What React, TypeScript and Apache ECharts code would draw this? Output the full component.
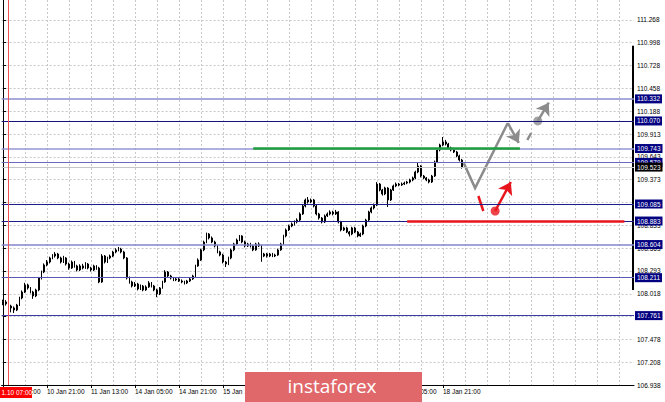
import React, { useEffect, useRef } from 'react';
import * as echarts from 'echarts';

const MONTHS = ['Jan', 'Feb', 'Mar', 'Apr', 'May', 'Jun', 'Jul', 'Aug', 'Sep', 'Oct', 'Nov', 'Dec'];
const BAR_COUNT = 230;
const FIRST_BAR_UTC = Date.UTC(2019, 0, 10, 5);

function buildTimes(count: number): string[] {
  const out: string[] = [];
  let t = FIRST_BAR_UTC;
  while (out.length < count) {
    const d = new Date(t);
    const wd = d.getUTCDay();
    if (wd !== 0 && wd !== 6) {
      out.push(`${d.getUTCDate()} ${MONTHS[d.getUTCMonth()]} ${String(d.getUTCHours()).padStart(2, '0')}:00`);
    }
    t += 3600000;
  }
  return out;
}
const TIMES = buildTimes(BAR_COUNT);

// [open, close, low, high]
const CANDLES: number[][] = [
  [107.930, 107.900, 107.885, 107.950],
  [107.900, 107.923, 107.880, 107.945],
  [107.923, 107.875, 107.860, 107.935],
  [107.875, 107.852, 107.800, 107.890],
  [107.852, 107.828, 107.792, 107.870],
  [107.828, 107.887, 107.815, 107.900],
  [107.887, 107.970, 107.875, 107.985],
  [107.970, 108.041, 107.955, 108.060],
  [108.041, 108.124, 108.030, 108.150],
  [108.124, 108.089, 108.070, 108.140],
  [108.089, 108.041, 108.025, 108.100],
  [108.041, 107.994, 107.960, 108.055],
  [107.994, 108.065, 107.980, 108.080],
  [108.065, 108.207, 108.050, 108.220],
  [108.207, 108.279, 108.190, 108.295],
  [108.279, 108.362, 108.265, 108.380],
  [108.362, 108.397, 108.345, 108.420],
  [108.397, 108.445, 108.380, 108.460],
  [108.445, 108.468, 108.430, 108.490],
  [108.468, 108.492, 108.450, 108.515],
  [108.492, 108.445, 108.430, 108.505],
  [108.445, 108.397, 108.380, 108.460],
  [108.397, 108.445, 108.385, 108.470],
  [108.445, 108.373, 108.355, 108.455],
  [108.373, 108.326, 108.305, 108.390],
  [108.326, 108.397, 108.315, 108.415],
  [108.397, 108.350, 108.330, 108.410],
  [108.350, 108.302, 108.285, 108.365],
  [108.302, 108.350, 108.290, 108.370],
  [108.350, 108.326, 108.310, 108.375],
  [108.326, 108.373, 108.315, 108.395],
  [108.373, 108.326, 108.310, 108.385],
  [108.326, 108.302, 108.285, 108.340],
  [108.302, 108.350, 108.290, 108.365],
  [108.350, 108.326, 108.305, 108.360],
  [108.326, 108.160, 108.145, 108.340],
  [108.160, 108.468, 108.150, 108.490],
  [108.468, 108.397, 108.380, 108.480],
  [108.397, 108.445, 108.385, 108.460],
  [108.445, 108.468, 108.430, 108.485],
  [108.468, 108.516, 108.455, 108.530],
  [108.516, 108.540, 108.500, 108.560],
  [108.540, 108.551, 108.525, 108.575],
  [108.551, 108.516, 108.500, 108.565],
  [108.516, 108.445, 108.430, 108.530],
  [108.445, 108.207, 108.190, 108.455],
  [108.207, 108.160, 108.140, 108.225],
  [108.160, 108.112, 108.095, 108.175],
  [108.112, 108.136, 108.100, 108.160],
  [108.136, 108.077, 108.060, 108.150],
  [108.077, 108.112, 108.065, 108.130],
  [108.112, 108.065, 108.050, 108.125],
  [108.065, 108.101, 108.055, 108.120],
  [108.101, 108.148, 108.090, 108.170],
  [108.148, 108.112, 108.095, 108.160],
  [108.112, 108.065, 108.050, 108.125],
  [108.065, 108.018, 107.980, 108.080],
  [108.018, 108.089, 108.005, 108.100],
  [108.089, 108.160, 108.080, 108.175],
  [108.160, 108.279, 108.150, 108.300],
  [108.279, 108.231, 108.215, 108.290],
  [108.231, 108.207, 108.190, 108.245],
  [108.207, 108.184, 108.170, 108.220],
  [108.184, 108.196, 108.170, 108.215],
  [108.196, 108.172, 108.160, 108.210],
  [108.172, 108.160, 108.145, 108.190],
  [108.160, 108.148, 108.130, 108.175],
  [108.148, 108.172, 108.135, 108.185],
  [108.172, 108.196, 108.160, 108.210],
  [108.196, 108.231, 108.185, 108.245],
  [108.231, 108.350, 108.220, 108.365],
  [108.350, 108.421, 108.340, 108.440],
  [108.421, 108.540, 108.410, 108.555],
  [108.540, 108.634, 108.525, 108.650],
  [108.634, 108.729, 108.620, 108.745],
  [108.729, 108.682, 108.665, 108.740],
  [108.682, 108.634, 108.620, 108.700],
  [108.634, 108.587, 108.570, 108.650],
  [108.587, 108.516, 108.500, 108.600],
  [108.516, 108.480, 108.465, 108.530],
  [108.480, 108.397, 108.380, 108.495],
  [108.397, 108.373, 108.338, 108.410],
  [108.373, 108.445, 108.360, 108.460],
  [108.445, 108.540, 108.430, 108.555],
  [108.540, 108.611, 108.525, 108.625],
  [108.611, 108.658, 108.595, 108.675],
  [108.658, 108.706, 108.645, 108.718],
  [108.706, 108.634, 108.620, 108.715],
  [108.634, 108.587, 108.570, 108.650],
  [108.587, 108.611, 108.575, 108.625],
  [108.611, 108.587, 108.570, 108.625],
  [108.587, 108.540, 108.525, 108.600],
  [108.540, 108.611, 108.530, 108.625],
  [108.611, 108.587, 108.575, 108.630],
  [108.587, 108.468, 108.400, 108.600],
  [108.468, 108.492, 108.455, 108.505],
  [108.492, 108.468, 108.450, 108.505],
  [108.468, 108.492, 108.455, 108.505],
  [108.492, 108.468, 108.455, 108.505],
  [108.468, 108.480, 108.455, 108.495],
  [108.480, 108.540, 108.470, 108.555],
  [108.540, 108.611, 108.530, 108.625],
  [108.611, 108.706, 108.600, 108.720],
  [108.706, 108.777, 108.690, 108.795],
  [108.777, 108.824, 108.765, 108.840],
  [108.824, 108.848, 108.810, 108.865],
  [108.848, 108.872, 108.830, 108.890],
  [108.872, 108.895, 108.855, 108.915],
  [108.895, 108.967, 108.880, 108.985],
  [108.967, 109.061, 108.955, 109.080],
  [109.061, 109.133, 109.045, 109.150],
  [109.133, 109.109, 109.090, 109.168],
  [109.109, 109.133, 109.095, 109.150],
  [109.133, 109.061, 109.045, 109.145],
  [109.061, 108.967, 108.950, 109.075],
  [108.967, 108.919, 108.900, 108.980],
  [108.919, 108.872, 108.855, 108.930],
  [108.872, 108.943, 108.860, 108.960],
  [108.943, 108.967, 108.930, 108.985],
  [108.967, 108.990, 108.950, 109.010],
  [108.990, 108.967, 108.950, 109.005],
  [108.967, 108.990, 108.955, 109.015],
  [108.990, 108.872, 108.855, 109.000],
  [108.872, 108.777, 108.760, 108.885],
  [108.777, 108.801, 108.765, 108.815],
  [108.801, 108.753, 108.740, 108.815],
  [108.753, 108.729, 108.700, 108.765],
  [108.729, 108.801, 108.715, 108.815],
  [108.801, 108.753, 108.740, 108.815],
  [108.753, 108.706, 108.690, 108.765],
  [108.706, 108.729, 108.695, 108.745],
  [108.729, 108.824, 108.715, 108.840],
  [108.824, 108.895, 108.810, 108.910],
  [108.895, 108.990, 108.880, 109.005],
  [108.990, 109.038, 108.975, 109.055],
  [109.038, 109.073, 109.020, 109.090],
  [109.073, 109.322, 109.060, 109.345],
  [109.322, 109.251, 109.235, 109.335],
  [109.251, 109.204, 109.185, 109.265],
  [109.204, 109.275, 109.190, 109.290],
  [109.275, 109.133, 109.050, 109.285],
  [109.133, 109.251, 109.120, 109.265],
  [109.251, 109.299, 109.240, 109.315],
  [109.299, 109.322, 109.285, 109.340],
  [109.322, 109.311, 109.295, 109.335],
  [109.311, 109.322, 109.300, 109.340],
  [109.322, 109.334, 109.310, 109.350],
  [109.334, 109.346, 109.320, 109.360],
  [109.346, 109.370, 109.330, 109.385],
  [109.370, 109.394, 109.355, 109.410],
  [109.394, 109.465, 109.380, 109.480],
  [109.465, 109.536, 109.450, 109.583],
  [109.536, 109.417, 109.400, 109.545],
  [109.417, 109.394, 109.380, 109.430],
  [109.394, 109.370, 109.355, 109.405],
  [109.370, 109.346, 109.330, 109.385],
  [109.346, 109.417, 109.335, 109.430],
  [109.417, 109.583, 109.405, 109.600],
  [109.583, 109.726, 109.570, 109.745],
  [109.726, 109.785, 109.710, 109.800],
  [109.785, 109.821, 109.770, 109.880],
  [109.821, 109.797, 109.780, 109.845],
  [109.797, 109.749, 109.735, 109.810],
  [109.749, 109.726, 109.710, 109.765],
  [109.726, 109.702, 109.690, 109.740],
  [109.702, 109.655, 109.640, 109.715],
  [109.655, 109.607, 109.590, 109.670],
  [109.607, 109.523, 109.505, 109.620],
];

const Y_MIN = 106.938;
const Y_MAX = 111.505;
const Y_TICKS = [106.938, 107.208, 107.478, 107.748, 108.018, 108.293, 108.563, 108.833, 109.103,
  109.373, 109.643, 109.913, 110.188, 110.458, 110.728, 110.998, 111.268];
// bars whose time label is drawn (the others are covered by the watermark)
const X_LABEL_BARS = [0, 16, 32, 48, 64, 80, 144, 160];
const X_TICK_BARS = [0, 16, 32, 48, 64, 80, 96, 112, 128, 144, 160];
const X_GRID_VALUES = [0, 8, 16, 24, 32, 40, 48, 56, 64, 72, 80, 88, 96, 104, 112, 120, 128, 136, 144,
  152, 160, 168, 176, 184, 192, 200, 208, 216, 224];

const LEVEL_PRICES = [110.332, 110.070, 109.743, 109.579, 109.085, 108.883, 108.604, 108.211, 107.761];
const LEVEL_COLORS = ['#8c8cd0', '#14147e', '#9696d4', '#6a6ac0', '#1c1c8c', '#1c1c8c', '#8484cc', '#5858b4', '#3c3ca4'];
const LEVEL_WIDTHS = [1.5, 1, 1.5, 1, 1, 1, 1.5, 1, 1];
const CURRENT_PRICE = 109.523;
const SEPARATOR_BAR = 2;

const GREEN_LEVEL = { price: 109.743, fromBar: 91, toBar: 188 };
const RED_LEVEL = { price: 108.883, fromBar: 147, toBar: 226 };

const GRAY_PATH = [[167.6, 109.57], [171.7, 109.275], [183.6, 110.046]];
const GRAY_ARROW_1 = [[183.6, 110.046], [187.6, 109.809]];
const GRAY_DASH = [[190.7, 109.844], [194.5, 110.070]];
const GRAY_DOT = [194.5, 110.070];
const GRAY_ARROW_2 = [[194.5, 110.070], [198.5, 110.287]];
const RED_TICK = [[172.9, 109.180], [174.7, 109.002]];
const RED_DOT = [179.0, 109.002];
const RED_ARROW = [[179.0, 109.002], [184.7, 109.346]];
const RANGE_BAR = [[229, 110.963], [229, 108.065]];

const FONT = '"Liberation Sans", Arial, sans-serif';
const GRAY = '#8c8c8c';
const RED = '#e8141c';

export default function App() {
  const ref = useRef<HTMLDivElement>(null);
  useEffect(() => {
    if (!ref.current) return;
    const chart = echarts.init(ref.current, undefined, { renderer: 'svg' });
    const levelLabel = (bg: string) => ({
      show: true,
      position: 'end',
      distance: 1,
      formatter: (p: any) => Number(p.value).toFixed(3),
      backgroundColor: bg,
      color: '#ffffff',
      fontSize: 6.5,
      fontFamily: FONT,
      padding: [1, 2, 1, 2],
    });
    const markData: any[] = LEVEL_PRICES.map((p, i) => ({
      yAxis: p,
      lineStyle: { color: LEVEL_COLORS[i], width: LEVEL_WIDTHS[i], type: 'solid' },
      label: levelLabel('#000080'),
    }));
    markData.push({
      yAxis: CURRENT_PRICE,
      lineStyle: { color: '#c4c4c4', width: 1, type: 'solid' },
      label: levelLabel('#000000'),
    });
    markData.push({
      xAxis: TIMES[SEPARATOR_BAR],
      lineStyle: { color: '#f05050', width: 1, type: 'solid' },
      label: { show: false },
    });
    markData.push([
      { coord: [TIMES[GREEN_LEVEL.fromBar], GREEN_LEVEL.price], lineStyle: { color: '#1f9e3c', width: 2.5, type: 'solid' }, label: { show: false } },
      { coord: [TIMES[GREEN_LEVEL.toBar], GREEN_LEVEL.price] },
    ]);
    markData.push([
      { coord: [TIMES[RED_LEVEL.fromBar], RED_LEVEL.price], lineStyle: { color: RED, width: 2.5, type: 'solid' }, label: { show: false } },
      { coord: [TIMES[RED_LEVEL.toBar], RED_LEVEL.price] },
    ]);

    chart.setOption({
      animation: false,
      backgroundColor: '#ffffff',
      grid: { left: -2.4, right: 31, top: 0, bottom: 17, containLabel: false },
      xAxis: [
        {
          type: 'category',
          data: TIMES,
          boundaryGap: true,
          axisLine: { show: true, lineStyle: { color: '#000', width: 1 } },
          axisTick: { show: true, alignWithLabel: true, interval: (i: number) => X_TICK_BARS.includes(i), length: 3, lineStyle: { color: '#000' } },
          axisLabel: {
            interval: (i: number) => X_LABEL_BARS.includes(i),
            align: 'left',
            fontSize: 6.5,
            fontFamily: FONT,
            color: '#000',
            margin: 3,
          },
          splitLine: { show: false },
        },
        {
          type: 'value',
          min: -0.5,
          max: BAR_COUNT - 0.5,
          position: 'bottom',
          axisLine: { show: false },
          axisTick: { show: false, customValues: X_GRID_VALUES },
          axisLabel: { show: false, customValues: X_GRID_VALUES },
          splitLine: { show: true, lineStyle: { color: '#c8c8c8', type: [2, 2], width: 1 } },
        },
      ],
      yAxis: {
        type: 'value',
        position: 'right',
        min: Y_MIN,
        max: Y_MAX,
        axisLine: { show: true, lineStyle: { color: '#000', width: 1 } },
        axisTick: { show: true, customValues: Y_TICKS, length: 3, lineStyle: { color: '#000' } },
        axisLabel: {
          customValues: Y_TICKS,
          formatter: (v: number) => v.toFixed(3),
          fontSize: 6.5,
          fontFamily: FONT,
          color: '#000',
          margin: 3,
        },
        splitLine: { show: true, lineStyle: { color: '#c8c8c8', type: [2, 2], width: 1 } },
      },
      series: [
        {
          type: 'candlestick',
          xAxisIndex: 0,
          yAxisIndex: 0,
          data: CANDLES,
          barMaxWidth: 2,
          barMinWidth: 1,
          itemStyle: { color: '#ffffff', color0: '#000000', borderColor: '#000000', borderColor0: '#000000', borderWidth: 1 },
          markLine: { silent: true, symbol: ['none', 'none'], animation: false, precision: 3, data: markData },
        },
        {
          type: 'lines',
          coordinateSystem: 'cartesian2d',
          xAxisIndex: 1,
          yAxisIndex: 0,
          polyline: true,
          symbol: ['none', 'none'],
          lineStyle: { color: GRAY, width: 2.5, opacity: 1, curveness: 0 },
          data: [{ coords: GRAY_PATH }],
        },
        {
          type: 'lines',
          coordinateSystem: 'cartesian2d',
          xAxisIndex: 1,
          yAxisIndex: 0,
          symbol: ['none', 'none'],
          lineStyle: { width: 2.5, opacity: 1, curveness: 0 },
          data: [
            { coords: GRAY_DASH, lineStyle: { color: GRAY, type: [8, 20] } },
            { coords: RED_TICK, lineStyle: { color: RED } },
            { coords: RANGE_BAR, lineStyle: { color: '#000', width: 2 } },
          ],
        },
        {
          type: 'lines',
          coordinateSystem: 'cartesian2d',
          xAxisIndex: 1,
          yAxisIndex: 0,
          symbol: ['none', 'arrow'],
          symbolSize: 12,
          lineStyle: { width: 2.5, opacity: 1, curveness: 0 },
          data: [
            { coords: GRAY_ARROW_1, lineStyle: { color: GRAY } },
            { coords: GRAY_ARROW_2, lineStyle: { color: GRAY } },
            { coords: RED_ARROW, lineStyle: { color: RED } },
          ],
        },
        {
          type: 'scatter',
          xAxisIndex: 1,
          yAxisIndex: 0,
          symbol: 'circle',
          symbolSize: 9,
          data: [
            { value: GRAY_DOT, itemStyle: { color: GRAY } },
            { value: RED_DOT, itemStyle: { color: RED } },
          ],
        },
      ],
      graphic: [
        {
          type: 'rect',
          z: 100,
          shape: { x: 0, y: 387, width: 32, height: 11 },
          style: { fill: '#ff0000' },
        },
        {
          type: 'text',
          z: 101,
          x: 1.5,
          y: 392.5,
          style: { text: '1.10 07:00', fill: '#ffffff', font: `6.5px ${FONT}`, verticalAlign: 'middle', align: 'left' },
        },
        {
          type: 'rect',
          z: 100,
          shape: { x: 245, y: 372, width: 177, height: 30 },
          style: { fill: '#e0686b' },
        },
        {
          type: 'text',
          z: 101,
          x: 332,
          y: 386,
          style: { text: 'instaforex', fill: '#ffffff', font: '19px "Open Sans", sans-serif', align: 'center', verticalAlign: 'middle' },
        },
      ],
    });
    return () => chart.dispose();
  }, []);
  return (
    <div
      ref={ref}
      style={{ position: 'fixed', left: 0, top: 0, width: 665, height: 402, background: '#fff' }}
    />
  );
}
